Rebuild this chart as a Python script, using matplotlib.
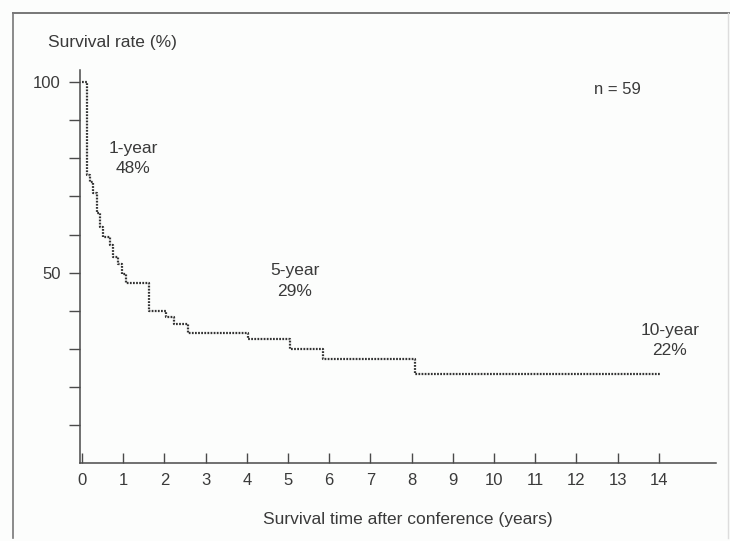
import matplotlib.pyplot as plt
from matplotlib.lines import Line2D

plt.rcParams['font.family'] = ['Liberation Sans', 'DejaVu Sans']

# Curva de Kaplan-Meier (anos, sobrevida %)
tempos = [0, 0.11, 0.19, 0.27, 0.36, 0.44, 0.51, 0.68, 0.75, 0.87, 0.96, 1.06,
          1.63, 2.03, 2.22, 2.58, 4.04, 5.05, 5.85, 8.08, 14.05]
sobrevida = [100, 75.6, 73.8, 70.9, 65.6, 62.0, 59.4, 57.2, 54.1, 52.2, 49.5, 47.2,
             40.0, 38.4, 36.5, 34.2, 32.5, 29.9, 27.2, 23.3, 23.3]

# anotações
anos_x = [1.24, 5.17, 14.27]
anos_y = [80, 47.8, 32.2]
anos_txt = ["1-year\n48%", "5-year\n29%", "10-year\n22%"]

x_ticks = list(range(0, 15))
y_ticks = list(range(10, 101, 10))
y_labels = ["" if v not in (50, 100) else str(v) for v in y_ticks]

cor_txt = "#3a3a3a"
cor_eixo = "#4a4a4a"

fig = plt.figure(figsize=(7.3, 5.41), dpi=100, facecolor="#fcfdfc")
ax = fig.add_axes([0.1096, 0.1442, 0.8712, 0.7264])
ax.set_facecolor("#fcfdfc")

ax.step(tempos, sobrevida, where="post", color="#333333",
        linewidth=1.6, linestyle=(0, (0.8, 0.6)))

ax.set_xlim(-0.05, 15.39)
ax.set_ylim(0, 103.2)

for lado in ["top", "right"]:
    ax.spines[lado].set_visible(False)
for lado in ["left", "bottom"]:
    ax.spines[lado].set_color(cor_eixo)
    ax.spines[lado].set_linewidth(1.1)

ax.set_xticks(x_ticks)
ax.set_xticklabels([str(v) for v in x_ticks])
ax.set_yticks(y_ticks)
ax.set_yticklabels(y_labels)
ax.tick_params(axis="x", direction="in", length=7.5, width=1, color=cor_eixo,
               labelsize=12, labelcolor=cor_txt, pad=7)
ax.tick_params(axis="y", direction="out", length=8, width=1, color=cor_eixo,
               labelsize=12, labelcolor=cor_txt, pad=6)

ax.set_xlabel("Survival time after conference (years)", fontsize=12.5,
              color=cor_txt)
ax.xaxis.set_label_coords(0.515, -0.125)

for x, y, t in zip(anos_x, anos_y, anos_txt):
    ax.text(x, y, t, ha="center", va="center", fontsize=12.5, color=cor_txt,
            linespacing=1.45)

ax.text(13.0, 98.2, "n = 59", ha="center", va="center", fontsize=12, color=cor_txt)
fig.text(0.066, 0.922, "Survival rate (%)", ha="left", va="center",
         fontsize=12.5, color=cor_txt)

# moldura da figura escaneada
fig.add_artist(Line2D([0.018, 1.0], [0.976, 0.976], color="#777777", lw=1.4))
fig.add_artist(Line2D([0.018, 0.018], [0.005, 0.976], color="#777777", lw=1.2))
fig.add_artist(Line2D([0.997, 0.997], [0.005, 0.976], color="#dddddd", lw=1.0))

plt.savefig("out.png", dpi=100, facecolor=fig.get_facecolor())
